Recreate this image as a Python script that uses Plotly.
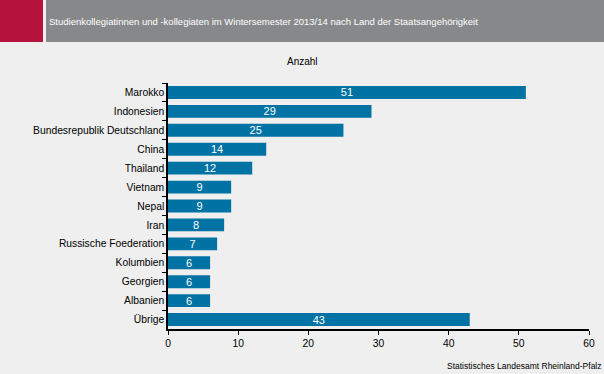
import plotly.graph_objects as go

categories = ["Marokko", "Indonesien", "Bundesrepublik Deutschland", "China", "Thailand",
              "Vietnam", "Nepal", "Iran", "Russische Foederation", "Kolumbien",
              "Georgien", "Albanien", "Übrige"]
values = [51, 29, 25, 14, 12, 9, 9, 8, 7, 6, 6, 6, 43]
x_ticks = [0, 10, 20, 30, 40, 50, 60]

BG = "#EEEFEE"
FONT = "Liberation Sans, Arial, sans-serif"
W, H = 421, 246  # plot area size in px

fig = go.Figure(go.Bar(
    y=categories, x=values, orientation="h",
    marker=dict(color="#0072A3", line=dict(width=0)),
    text=[str(v) for v in values], textposition="inside", insidetextanchor="middle",
    textangle=0, constraintext="none",
    textfont=dict(color="white", size=11, family=FONT),
    hoverinfo="skip", cliponaxis=False,
))

fig.update_layout(
    width=604, height=374,
    margin=dict(l=168, r=15, t=83, b=45, pad=0, autoexpand=False),
    paper_bgcolor=BG, plot_bgcolor=BG,
    bargap=0.32,
    showlegend=False,
    font=dict(family=FONT, size=10, color="#000000"),
    uniformtext=dict(minsize=9, mode="show"),
    xaxis=dict(range=[0, 60], tickvals=x_ticks, showgrid=False, zeroline=False,
               showline=True, linecolor="black", linewidth=1.5, automargin=False,
               ticks="outside", ticklen=4, tickcolor="black",
               tickfont=dict(size=10.3, family=FONT), fixedrange=True),
    yaxis=dict(autorange="reversed", showgrid=False, zeroline=False,
               showline=True, linecolor="black", linewidth=1.5, automargin=False,
               ticks="outside", ticklen=4, tickcolor="black", tickson="boundaries",
               tickfont=dict(size=10.3, family=FONT), fixedrange=True),
    shapes=[
        dict(type="rect", xref="paper", yref="paper", x0=-168/W, x1=-125/W,
             y0=1 + 41/H, y1=1 + 83/H, fillcolor="#B5123E", line=dict(width=0), layer="below"),
        dict(type="rect", xref="paper", yref="paper", x0=-122/W, x1=1 + 15/W,
             y0=1 + 41/H, y1=1 + 83/H, fillcolor="#878889", line=dict(width=0), layer="below"),
    ],
    annotations=[
        dict(text="Studienkollegiatinnen und -kollegiaten im Wintersemester 2013/14 nach Land der Staatsangehörigkeit",
             xref="paper", yref="paper", x=-121/W, y=1 + 62/H, xanchor="left", yanchor="middle",
             showarrow=False, font=dict(size=9.5, color="white", family=FONT)),
        dict(text="Anzahl", xref="paper", yref="paper", x=(302-168)/W, y=1 + 21/H,
             xanchor="center", yanchor="middle", showarrow=False,
             font=dict(size=10, family=FONT)),
        dict(text="Statistisches Landesamt Rheinland-Pfalz", xref="paper", yref="paper",
             x=1 + 15/W, y=-37/H, xanchor="right", yanchor="middle", showarrow=False,
             font=dict(size=8.5, family=FONT)),
    ],
)

fig.write_html("out.html", config={"displayModeBar": False},
               post_script="document.body.style.margin='0';document.body.style.background='#EEEFEE';")
